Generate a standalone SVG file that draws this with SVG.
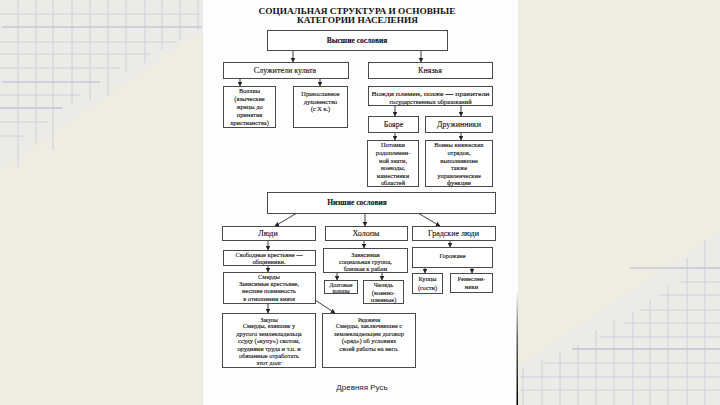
<svg xmlns="http://www.w3.org/2000/svg" width="720" height="405" viewBox="0 0 720 405">
<defs>
<style>
.grid{stroke:#ccd0da;stroke-width:1;fill:none}
.gridb{stroke:#c6cad5;stroke-width:2;fill:none;opacity:.8}
.box{fill:#fff;stroke:#4a4a4a;stroke-width:1}
.t{font-family:"Liberation Serif","DejaVu Serif",serif;font-size:6.4px;fill:#111;stroke:#111;stroke-width:0.12;text-anchor:middle}
.tm{font-size:8px}
.tb{font-weight:bold;font-size:7.5px}
.h{font-family:"Liberation Serif","DejaVu Serif",serif;font-weight:bold;font-size:9px;fill:#111;text-anchor:middle}
.c{stroke:#2a2a2a;stroke-width:0.9;fill:none;marker-end:url(#ah)}
</style>
<marker id="ah" viewBox="0 0 6 6" refX="5.5" refY="3" markerWidth="4.5" markerHeight="4.5" markerUnits="userSpaceOnUse" orient="auto">
<path d="M0,0 L6,3 L0,6 Z" fill="#222"/>
</marker>
<linearGradient id="edge" x1="0" y1="0" x2="0" y2="1">
<stop offset="0" stop-color="#000" stop-opacity="0"/>
<stop offset="0.4" stop-color="#000" stop-opacity="0.6"/>
<stop offset="1" stop-color="#000" stop-opacity="1"/>
</linearGradient>
</defs>
<rect x="0" y="0" width="720" height="405" fill="#efece2"/>
<g id="grid-top-left">
<polygon points="0,0 205,0 205,28 0,170" fill="#ebebe8"/>
<path class="grid" d="M18,0V167 M36,0V143 M53,0V150 M72,0V103 M90,0V100 M108,0V96 M126,0V72 M145,0V63 M162,0V50 M180,0V40 M198,0V30"/>
<path class="grid" d="M0,14H200 M0,42H177 M0,54H150 M0,68H120 M0,95H80 M0,108H63 M0,122H48 M0,136H24"/>
<path class="gridb" d="M2,27H202 M2,82H100 M0,108H62"/>
</g>
<g id="grid-bottom-right">
<polygon points="720,232 720,405 520,405 520,365" fill="#ebebe8"/>
<path class="grid" d="M523,368V405 M542,360V405 M560,352V405 M578,345V405 M596,330V405 M614,320V405 M633,312V405 M650,300V405 M668,285V405 M687,258V405 M705,240V405"/>
<path class="grid" d="M700,268H720 M680,282H720 M660,295H720 M640,310H720 M625,323H720 M600,337H720 M572,349H720 M545,363H720 M520,377H720 M520,390H720"/>
<path class="gridb" d="M630,268H720 M572,349H720"/>
</g>
<rect x="203" y="0" width="315" height="405" fill="#fdfdfd"/>
<rect x="516.5" y="290" width="1.5" height="115" fill="url(#edge)"/>
<text class="h" x="357" y="13.5" textLength="197" lengthAdjust="spacingAndGlyphs">СОЦИАЛЬНАЯ СТРУКТУРА И ОСНОВНЫЕ</text>
<text class="h" x="357.5" y="23" textLength="121" lengthAdjust="spacingAndGlyphs">КАТЕГОРИИ НАСЕЛЕНИЯ</text>
<g id="connectors">
<path class="c" d="M293,51V62"/>
<path class="c" d="M421,51V62"/>
<path class="c" d="M240,78V86"/>
<path class="c" d="M320,78V86"/>
<path class="c" d="M395,106V116"/>
<path class="c" d="M461,106V116"/>
<path class="c" d="M395,132V140"/>
<path class="c" d="M461,132V140"/>
<path class="c" d="M297,213L275,226"/>
<path class="c" d="M365,213V226"/>
<path class="c" d="M418,213L440,226"/>
<path class="c" d="M268,240V250"/>
<path class="c" d="M364,240V248"/>
<path class="c" d="M450,240V247"/>
<path class="c" d="M268,265V272"/>
<path class="c" d="M337,272V280"/>
<path class="c" d="M382,272V280"/>
<path class="c" d="M425,267V273"/>
<path class="c" d="M472,267V273"/>
<path class="c" d="M268,303V313"/>
<path class="c" d="M315,300L335,313"/>
</g>
<g id="vysshie"><rect class="box" x="267.5" y="30.5" width="180" height="20"/><text class="t tb" x="357" y="42.5">Высшие сословия</text></g>
<g id="sluzhiteli"><rect class="box" x="223.5" y="62.5" width="125" height="16"/><text class="t tm" x="285" y="73">Служители культа</text></g>
<g id="knyazya"><rect class="box" x="368.5" y="62.5" width="124" height="16"/><text class="t tm" x="430" y="73">Князья</text></g>
<g id="volkhvy"><rect class="box" x="223.5" y="86.5" width="52" height="41"/>
<text class="t" x="249.5" y="93">Волхвы</text><text class="t" x="249.5" y="101">(языческие</text><text class="t" x="249.5" y="109">жрецы до</text><text class="t" x="249.5" y="117">принятия</text><text class="t" x="249.5" y="125">христианства)</text></g>
<g id="pravoslavnoe"><rect class="box" x="293.5" y="86.5" width="54" height="41"/>
<text class="t" x="320.5" y="96">Православное</text><text class="t" x="320.5" y="103.5">духовенство</text><text class="t" x="320.5" y="111">(с X в.)</text></g>
<g id="vozhdi"><rect class="box" x="368.5" y="86.5" width="124" height="19"/>
<text class="t" x="430.5" y="96" textLength="118" lengthAdjust="spacingAndGlyphs">Вожди племен, позже — правители</text><text class="t" x="430.5" y="103.5">государственных образований</text></g>
<g id="boyare"><rect class="box" x="368.5" y="116.5" width="50" height="16"/><text class="t tm" x="393.5" y="127">Бояре</text></g>
<g id="druzhinniki"><rect class="box" x="425.5" y="116.5" width="67" height="16"/><text class="t tm" x="459" y="127">Дружинники</text></g>
<g id="potomki"><rect class="box" x="367.5" y="140.5" width="51" height="46"/>
<text class="t" x="393" y="147">Потомки</text><text class="t" x="393" y="155">родоплемен-</text><text class="t" x="393" y="162.5">ной знати,</text><text class="t" x="393" y="170">воеводы,</text><text class="t" x="393" y="177.5">наместники</text><text class="t" x="393" y="185">областей</text></g>
<g id="voiny"><rect class="box" x="425.5" y="140.5" width="67" height="46"/>
<text class="t" x="459" y="147">Воины княжеских</text><text class="t" x="459" y="155">отрядов,</text><text class="t" x="459" y="162.5">выполнявшие</text><text class="t" x="459" y="170">также</text><text class="t" x="459" y="177.5">управленческие</text><text class="t" x="459" y="185">функции</text></g>
<g id="nizshie"><rect class="box" x="267.5" y="192.5" width="228" height="21"/><text class="t tb" x="357" y="205">Низшие сословия</text></g>
<g id="lyudi"><rect class="box" x="222.5" y="226.5" width="93" height="14"/><text class="t tm" x="268" y="236">Люди</text></g>
<g id="kholopy"><rect class="box" x="325.5" y="226.5" width="82" height="14"/><text class="t tm" x="366" y="236">Холопы</text></g>
<g id="gradskie"><rect class="box" x="412.5" y="226.5" width="83" height="14"/><text class="t tm" x="453.5" y="236">Градские люди</text></g>
<g id="svobodnye"><rect class="box" x="223.5" y="250.5" width="92" height="15"/>
<text class="t" x="269" y="257">Свободные крестьяне —</text><text class="t" x="269" y="264">общинники.</text></g>
<g id="smerdy"><rect class="box" x="223.5" y="272.5" width="92" height="31"/>
<text class="t" x="269" y="278.5">Смерды</text><text class="t" x="269" y="285.5">Зависимые крестьяне,</text><text class="t" x="269" y="293">несшие повинность</text><text class="t" x="269" y="300.5">в отношении князя</text></g>
<g id="zavisimaya"><rect class="box" x="323.5" y="248.5" width="84" height="24"/>
<text class="t" x="365.5" y="257">Зависимая</text><text class="t" x="365.5" y="264">социальная группа,</text><text class="t" x="365.5" y="271">близкая к рабам</text></g>
<g id="dolgovye"><rect class="box" x="324.5" y="280.5" width="33" height="13"/>
<text class="t" x="341" y="287" style="font-size:5.5px">Долговые</text><text class="t" x="341" y="293" style="font-size:5.5px">холопы</text></g>
<g id="chelyad"><rect class="box" x="363.5" y="280.5" width="40" height="23"/>
<text class="t" x="383.5" y="287">Челядь</text><text class="t" x="383.5" y="294.5">(военно-</text><text class="t" x="383.5" y="302">пленные)</text></g>
<g id="gorozhane"><rect class="box" x="412.5" y="247.5" width="80" height="20"/><text class="t" x="452.5" y="257.5">Горожане</text></g>
<g id="kuptsy"><rect class="box" x="412.5" y="273.5" width="30" height="20"/>
<text class="t" x="427.5" y="281">Купцы</text><text class="t" x="427.5" y="290">(гости)</text></g>
<g id="remeslenniki"><rect class="box" x="450.5" y="273.5" width="42" height="19"/>
<text class="t" x="471.5" y="281">Ремеслен-</text><text class="t" x="471.5" y="288.5">ники</text></g>
<g id="zakupy"><rect class="box" x="222.5" y="313.5" width="93" height="54"/>
<text class="t" x="269" y="322" style="font-size:5.5px">Закупы</text><text class="t" x="269" y="328">Смерды, взявшие у</text><text class="t" x="269" y="335.5">другого землевладельца</text><text class="t" x="269" y="343">ссуду («купу») скотом,</text><text class="t" x="269" y="350.5">орудиями труда и т.п. и</text><text class="t" x="269" y="358">обязанные отработать</text><text class="t" x="269" y="365">этот долг</text></g>
<g id="ryadovichi"><rect class="box" x="322.5" y="313.5" width="93" height="54"/>
<text class="t" x="369" y="322" style="font-size:5.5px">Рядовичи</text><text class="t" x="369" y="328">Смерды, заключившие с</text><text class="t" x="369" y="335.5">землевладельцем договор</text><text class="t" x="369" y="343">(«ряд») об условиях</text><text class="t" x="369" y="350.5">своей работы на него.</text></g>
<text x="362" y="390" style="font-family:'Liberation Sans',Arial,sans-serif;font-size:8px;fill:#222;text-anchor:middle">Древняя Русь</text>
</svg>
